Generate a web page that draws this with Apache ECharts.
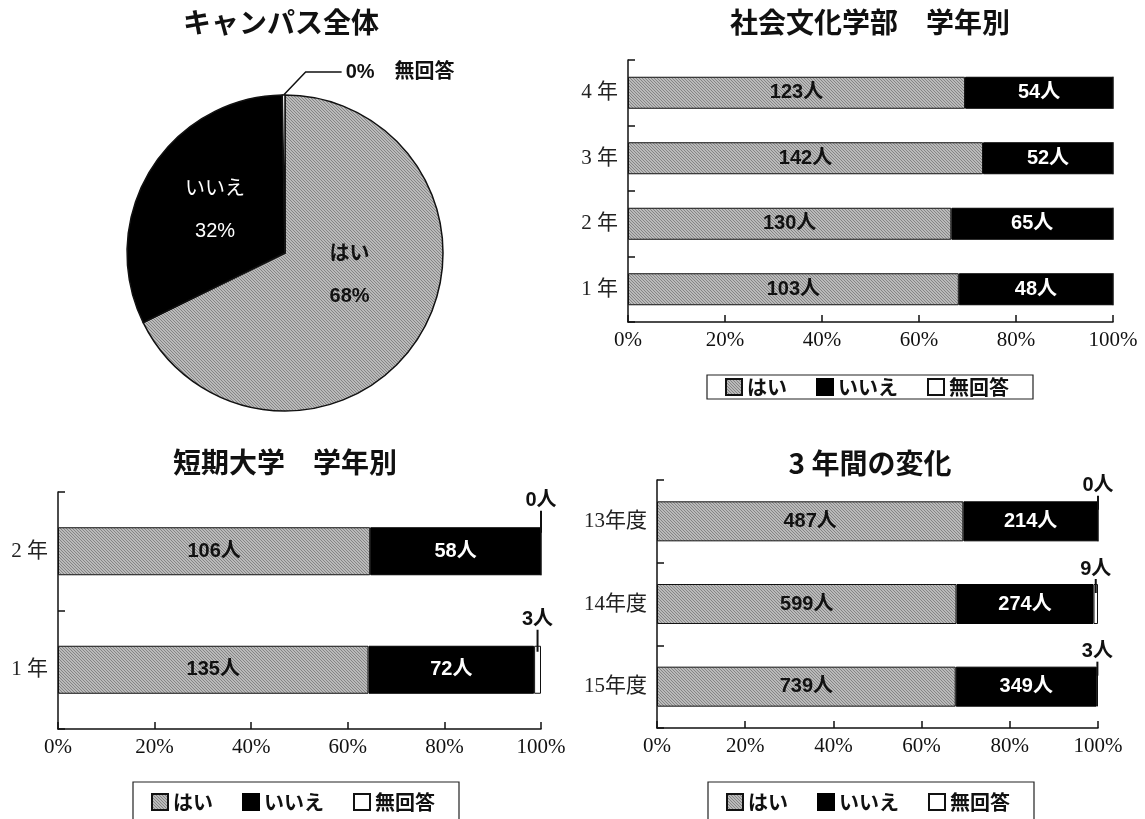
<!DOCTYPE html>
<html>
<head>
<meta charset="utf-8">
<script src="https://cdn.jsdelivr.net/npm/echarts@6/dist/echarts.min.js"></script>
<style>
  html, body { margin: 0; padding: 0; background: #fff; }
  #main { width: 1145px; height: 819px; }
</style>
</head>
<body>
<div id="main"></div>
<script>
// 回答区分
const answerNames = ['はい', 'いいえ', '無回答'];

// 社会文化学部 学年別（下から 1年 → 4年）
const facultyGrades = ['1 年', '2 年', '3 年', '4 年'];
const facultyYes = [103, 130, 142, 123];
const facultyNo = [48, 65, 52, 54];
const facultyNone = [0, 0, 0, 0];

// 短期大学 学年別（下から 1年 → 2年）
const juniorGrades = ['1 年', '2 年'];
const juniorYes = [135, 106];
const juniorNo = [72, 58];
const juniorNone = [3, 0];

// 3年間の変化（下から 15年度 → 13年度）
const fiscalYears = ['15年度', '14年度', '13年度'];
const yearYes = [739, 599, 487];
const yearNo = [349, 274, 214];
const yearNone = [3, 9, 0];

// 横軸の目盛り（%）
const percentTicks = [0, 20, 40, 60, 80, 100];

// キャンパス全体 = 社会文化学部 + 短期大学
const sum = arr => arr.reduce((a, b) => a + b, 0);
const campusYes = sum(facultyYes) + sum(juniorYes);
const campusNo = sum(facultyNo) + sum(juniorNo);
const campusNone = sum(facultyNone) + sum(juniorNone);

// 「はい」の網掛け模様
function makeHatch() {
  const c = document.createElement('canvas');
  c.width = 6; c.height = 6;
  const ctx = c.getContext('2d');
  ctx.fillStyle = '#bababa';
  ctx.fillRect(0, 0, 6, 6);
  ctx.fillStyle = '#858585';
  for (let i = 0; i < 6; i++) {
    ctx.fillRect(i, i % 6, 1, 1);
    ctx.fillRect(i, (i + 3) % 6, 1, 1);
  }
  return { image: c, repeat: 'repeat' };
}
const hatch = makeHatch();

const SANS = "'Liberation Sans', 'Noto Sans CJK JP', sans-serif";
const CJK = "'Noto Sans CJK JP', sans-serif";
const SERIF = "'Liberation Serif', 'Noto Sans CJK JP', serif";

const chart = echarts.init(document.getElementById('main'), null, { renderer: 'canvas' });

// 各グリッドの横軸・縦軸
function xAxisFor(gridIndex) {
  return {
    type: 'value', gridIndex,
    min: percentTicks[0], max: percentTicks[percentTicks.length - 1],
    interval: percentTicks[1] - percentTicks[0],
    axisLine: { show: true, lineStyle: { color: '#111', width: 1.5 } },
    axisTick: { show: true, inside: true, length: 7, lineStyle: { color: '#111', width: 1.5 } },
    splitLine: { show: false },
    axisLabel: {
      formatter: '{value}%', color: '#111', fontFamily: SERIF, fontSize: 21, margin: 8
    }
  };
}
function yAxisFor(gridIndex, categories) {
  return {
    type: 'category', gridIndex, data: categories,
    axisLine: { show: true, lineStyle: { color: '#111', width: 1.5 } },
    axisTick: { show: true, inside: true, length: 7, lineStyle: { color: '#111', width: 1.5 } },
    axisLabel: { color: '#222', fontFamily: SERIF, fontSize: 21, margin: 10 }
  };
}

// 人数から構成比（%）を求め、帯グラフの系列を作る
// noneLabel: 無回答の人数を帯の上に出すときの [引き出し線の長さ, 帯に食い込む量]
function barSeries(gridIndex, yes, no, none, barWidth, noneLabel) {
  const totals = yes.map((v, i) => v + no[i] + none[i]);
  const toItems = counts => counts.map((c, i) => ({ value: c / totals[i] * 100, count: c }));
  const fmt = p => p.data.count + '人';
  const stack = 'g' + gridIndex;
  const base = {
    type: 'bar', stack, xAxisIndex: gridIndex, yAxisIndex: gridIndex, barWidth
  };
  return [
    Object.assign({}, base, {
      name: answerNames[0], data: toItems(yes),
      itemStyle: { color: hatch, borderColor: '#111', borderWidth: 1 },
      label: { show: true, position: 'inside', formatter: fmt, color: '#111',
               fontFamily: SANS, fontSize: 20, fontWeight: 'bold' }
    }),
    Object.assign({}, base, {
      name: answerNames[1], data: toItems(no),
      itemStyle: { color: '#000', borderColor: '#000', borderWidth: 1 },
      label: { show: true, position: 'inside', formatter: fmt, color: '#fff',
               fontFamily: SANS, fontSize: 20, fontWeight: 'bold' }
    }),
    Object.assign({}, base, {
      name: answerNames[2], data: toItems(none),
      itemStyle: { color: '#fff', borderColor: '#111', borderWidth: 1 },
      label: noneLabel ? {
        show: true, position: 'top', distance: -noneLabel[1],
        // 人数の下に短い縦線を付けて帯と結ぶ
        formatter: p => '{t|' + p.data.count + '人}\n{l| }',
        rich: {
          t: { fontFamily: SANS, fontSize: 20, fontWeight: 'bold', color: '#111', lineHeight: 20 },
          l: { width: 2, height: noneLabel[0], lineHeight: noneLabel[0], fontSize: 1,
               backgroundColor: '#111' }
        }
      } : { show: false }
    })
  ];
}

function legendAt(left, top, padding) {
  return {
    left, top, orient: 'horizontal', data: answerNames, selectedMode: false,
    icon: 'rect', itemWidth: 16, itemHeight: 16, itemGap: 29,
    padding, borderColor: '#222', borderWidth: 1.2, borderRadius: 0,
    textStyle: { color: '#111', fontFamily: CJK, fontSize: 20, fontWeight: 'bold' }
  };
}

function titleAt(text, x, y) {
  return {
    text, left: x, top: y, textAlign: 'center', padding: 0,
    textStyle: { color: '#111', fontFamily: CJK, fontSize: 28, fontWeight: 'bold' }
  };
}

const option = {
  animation: false,
  backgroundColor: '#fff',
  title: [
    titleAt('キャンパス全体', 281, 8),
    titleAt('社会文化学部　学年別', 870, 8),
    titleAt('短期大学　学年別', 285, 448),
    titleAt('3 年間の変化', 870, 449)
  ],
  legend: [
    legendAt(707, 375, [2, 24, 2, 18]),
    legendAt(133, 782, [10, 24, 14, 18]),
    legendAt(708, 782, [10, 24, 14, 18])
  ],
  grid: [
    { left: 628, top: 60, width: 485, height: 262 },
    { left: 58, top: 492, width: 483, height: 237 },
    { left: 657, top: 480, width: 441, height: 248 }
  ],
  xAxis: [xAxisFor(0), xAxisFor(1), xAxisFor(2)],
  yAxis: [yAxisFor(0, facultyGrades), yAxisFor(1, juniorGrades), yAxisFor(2, fiscalYears)],
  series: [
    {
      type: 'pie', name: 'キャンパス全体',
      center: [285, 253], radius: 158,
      startAngle: 90, clockwise: true, avoidLabelOverlap: false,
      percentPrecision: 0,
      itemStyle: { borderColor: '#111', borderWidth: 1.5 },
      label: {
        position: 'inside', formatter: '{b}\n{d}%', fontFamily: SANS,
        fontSize: 20, fontWeight: 'bold', lineHeight: 42
      },
      labelLine: { show: false },
      data: [
        { name: answerNames[0], value: campusYes, itemStyle: { color: hatch },
          label: { color: '#111', offset: [-5, -21] } },
        { name: answerNames[1], value: campusNo, itemStyle: { color: '#000' },
          label: { color: '#fff', fontWeight: 'normal' } },
        { name: answerNames[2], value: campusNone, itemStyle: { color: '#fff' },
          label: { position: 'outside', formatter: '{d}%　{b}', color: '#111', lineHeight: 22 },
          labelLine: { show: true, length: 20, length2: 30, lineStyle: { color: '#111', width: 1.5 } } }
      ],
      // 無回答の引き出し線を斜め上に折って右へ伸ばす
      labelLayout: function (params) {
        if (params.dataIndex !== 2 || !params.labelLinePoints) return {};
        const start = params.labelLinePoints[0];
        const bend = [start[0] + 22, start[1] - 23];
        const end = [bend[0] + 36, bend[1]];
        return {
          x: end[0] + 4, y: end[1], align: 'left', verticalAlign: 'middle',
          labelLinePoints: [start, bend, end]
        };
      }
    },
    ...barSeries(0, facultyYes, facultyNo, facultyNone, 32, null),
    ...barSeries(1, juniorYes, juniorNo, juniorNone, 48, [22, 6]),
    ...barSeries(2, yearYes, yearNo, yearNone, 40, [14, 9])
  ]
};

chart.setOption(option);
</script>
</body>
</html>
